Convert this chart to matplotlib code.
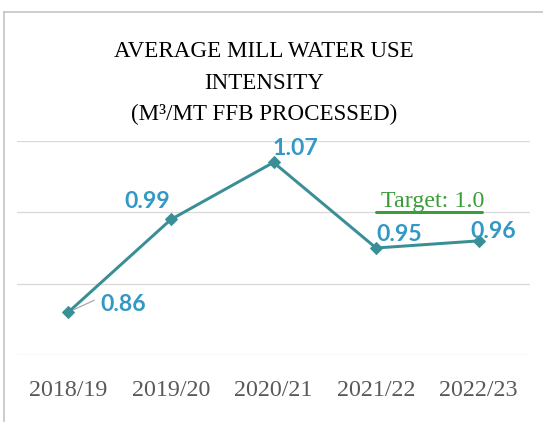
import matplotlib
matplotlib.use("Agg")
import matplotlib.pyplot as plt
from matplotlib.lines import Line2D

categories = ["2018/19", "2019/20", "2020/21", "2021/22", "2022/23"]
values = [0.86, 0.99, 1.07, 0.95, 0.96]
labels = ["0.86", "0.99", "1.07", "0.95", "0.96"]
target_value = 1.0
target_range = ["2021/22", "2022/23"]
target_label = "Target: 1.0"
title = "AVERAGE MILL WATER USE\nINTENSITY\n(M³/MT FFB PROCESSED)"

W, H = 543, 422
DPI = 72
fig = plt.figure(figsize=(W / DPI, H / DPI), dpi=DPI)
fig.patch.set_facecolor("white")

# outer chart border (partially visible)
fig.add_artist(Line2D([4 / W, 4 / W], [0, 1 - 12 / H], color="#bfbfbf", lw=1.5, transform=fig.transFigure))
fig.add_artist(Line2D([4 / W, 1], [1 - 12 / H, 1 - 12 / H], color="#bfbfbf", lw=1.5, transform=fig.transFigure))

left, right = 17 / W, 530 / W
top, bottom = 1 - 141 / H, 1 - 355 / H
ax = fig.add_axes([left, bottom, right - left, top - bottom])
ax.set_xlim(-0.5, len(categories) - 0.5)
ax.set_ylim(0.8, 1.1)
ax.set_yticks([0.8, 0.9, 1.0, 1.1])
ax.grid(axis="y", color="#d9d9d9", lw=1.3)
ax.set_axisbelow(True)
for s in ax.spines.values():
    s.set_visible(False)
ax.tick_params(axis="y", left=False, labelleft=False)
ax.tick_params(axis="x", bottom=False, pad=22)
x = list(range(len(categories)))
ax.set_xticks(x)
ax.set_xticklabels(categories, family="Liberation Serif", fontsize=24, color="#595959")

ax.plot(x, values, color="#3a8f96", lw=3, marker="D", ms=8, zorder=3, clip_on=False)

# target line
t0, t1 = categories.index(target_range[0]), categories.index(target_range[1])
ax.plot([t0, t1 + 0.03], [target_value, target_value], color="#3a9d3a", lw=3, solid_capstyle="round", zorder=2)
ax.annotate(target_label, xy=((t0 + t1) / 2 + 0.05, target_value), xytext=(0, 5), textcoords="offset points",
            ha="center", va="baseline", family="Liberation Serif", fontsize=24, color="#3a9d3a")

offsets = [(55, 1.5), (-23.5, 11.5), (22, 7), (23.5, 7), (14.5, 2.5)]
for xi, v, lab, off in zip(x, values, labels, offsets):
    ax.annotate(lab, xy=(xi, v), xytext=off, textcoords="offset points", ha="center", va="baseline",
                family="Lato", fontweight="bold", fontsize=23, color="#3398c4", zorder=4)

# leader line for first label
ax.annotate("", xy=(0, values[0]), xytext=(26, 12), textcoords="offset points",
            arrowprops=dict(arrowstyle="-", color="#a6a6a6", lw=1.2, shrinkA=0, shrinkB=6))

fig.text(264 / W, 1 - 41 / H, title, ha="center", va="top", family="Liberation Serif", fontsize=23,
         color="#000000", linespacing=1.66)

fig.savefig("out.png", dpi=DPI)
